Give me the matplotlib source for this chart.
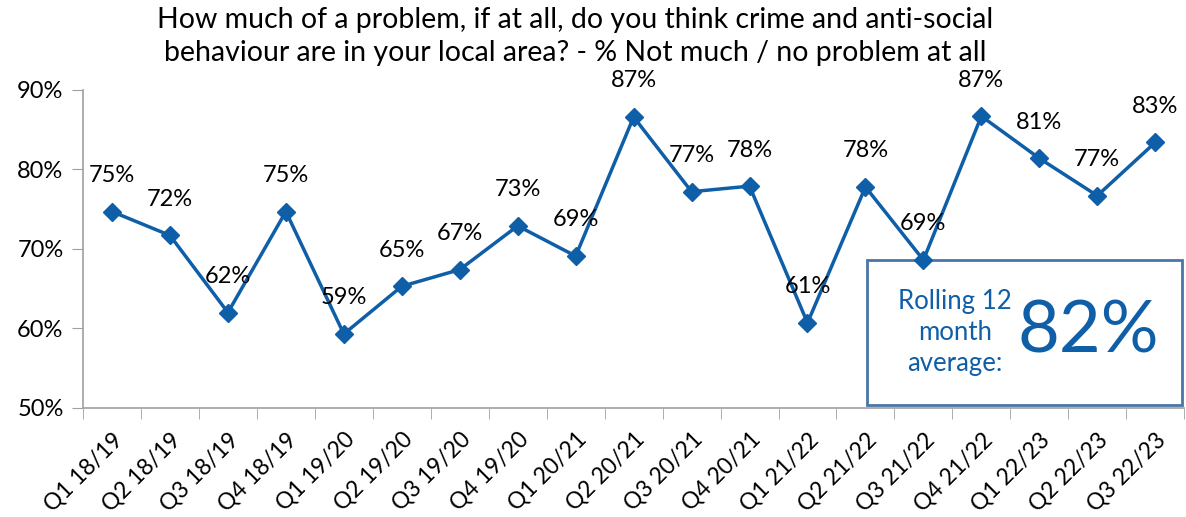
import matplotlib.pyplot as plt
from matplotlib.patches import Rectangle

## DATA
quarters = ['Q1 18/19', 'Q2 18/19', 'Q3 18/19', 'Q4 18/19', 'Q1 19/20', 'Q2 19/20',
            'Q3 19/20', 'Q4 19/20', 'Q1 20/21', 'Q2 20/21', 'Q3 20/21', 'Q4 20/21',
            'Q1 21/22', 'Q2 21/22', 'Q3 21/22', 'Q4 21/22', 'Q1 22/23', 'Q2 22/23',
            'Q3 22/23']
pct_no_problem = [74.7, 71.7, 62.0, 74.7, 59.3, 65.3, 67.4, 72.9, 69.1, 86.6,
                  77.2, 77.9, 60.7, 77.8, 68.6, 86.7, 81.4, 76.7, 83.4]
rolling_avg = 82

title = ('How much of a problem, if at all, do you think crime and anti-social\n'
         'behaviour are in your local area? - % Not much / no problem at all')

blue = '#0f5ea8'
plt.rcParams['font.family'] = ['Lato', 'DejaVu Sans']

fig = plt.figure(figsize=(11.86, 5.17), dpi=100)
ax = fig.add_axes([0.07, 0.211, 0.9285, 0.615])

x = list(range(len(quarters)))
ax.plot(x, pct_no_problem, color=blue, lw=2.5, marker='D', ms=9, zorder=3)

# data labels above points
for xi, v in zip(x, pct_no_problem):
    ax.annotate('{:.0f}%'.format(v), (xi, v), xytext=(0, 26), textcoords='offset points',
                ha='center', va='center', fontsize=17, color='black', zorder=4)

ax.set_xlim(-0.5, len(quarters) - 0.5)
ax.set_ylim(50, 90)
ax.set_yticks([50, 60, 70, 80, 90])
ax.set_yticklabels(['{}%'.format(t) for t in [50, 60, 70, 80, 90]], fontsize=17)

# category labels, ticks at boundaries
ax.set_xticks(x)
ax.set_xticklabels(quarters, rotation=45, ha='right', rotation_mode='anchor', fontsize=16.5)
ax.tick_params(axis='x', which='major', length=0, pad=15)
ax.set_xticks([i - 0.5 for i in range(len(quarters) + 1)], minor=True)
ax.tick_params(axis='x', which='minor', length=8, color='#a0a0a0')
ax.tick_params(axis='y', length=8, color='#a0a0a0', pad=6)

for s in ['top', 'right']:
    ax.spines[s].set_visible(False)
for s in ['left', 'bottom']:
    ax.spines[s].set_color('#a0a0a0')
    ax.spines[s].set_linewidth(1.2)

fig.text(0.485, 0.929, title, ha='center', va='center', fontsize=20.5, linespacing=1.35)

# rolling average box (under the line, over the axes)
box = Rectangle((0.731, 0.217), 0.266, 0.280, transform=fig.transFigure,
                facecolor='white', edgecolor='#4a76a8', lw=2, zorder=2.5, clip_on=False)
ax.add_patch(box)
ax.text(0.805, 0.357, 'Rolling 12\nmonth\naverage:', transform=fig.transFigure,
        ha='center', va='center', fontsize=18.5, color=blue, linespacing=1.3, zorder=2.6)
ax.text(0.918, 0.357, '{}%'.format(rolling_avg), transform=fig.transFigure,
        ha='center', va='center', fontsize=52, color=blue, zorder=2.6)

plt.savefig('out.png', dpi=100)
plt.close()
